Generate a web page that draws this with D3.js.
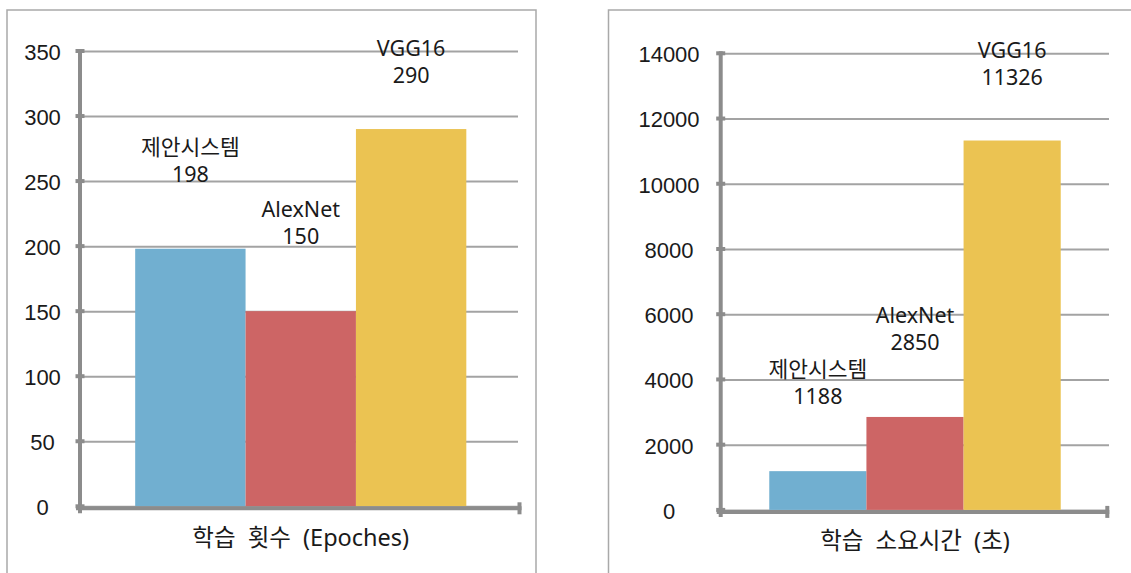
<!DOCTYPE html>
<html lang="ko">
<head>
<meta charset="utf-8">
<script src="https://cdn.jsdelivr.net/npm/d3@7"></script>
<style>
  html, body { margin: 0; padding: 0; background: #fff; }
  svg { display: block; font-family: "Noto Sans", "Noto Sans CJK KR", sans-serif; }
</style>
</head>
<body>
<svg id="chart" width="1131" height="573"></svg>
<script>
// Models compared in both panels
const models = ["제안시스템", "AlexNet", "VGG16"];
// Training epochs per model
const epochValues = [198, 150, 290];
// Training time per model, in seconds
const timeValues = [1188, 2850, 11326];
// Value-axis ticks for each panel
const epochTicks = [0, 50, 100, 150, 200, 250, 300, 350];
const timeTicks = [0, 2000, 4000, 6000, 8000, 10000, 12000, 14000];
// Category (x-axis) titles
const epochTitle = "학습 횟수 (Epoches)";
const timeTitle = "학습 소요시간 (초)";
// Series colours: blue, red, yellow
const barColors = ["#71afd0", "#cd6565", "#ebc352"];

const svg = d3.select("#chart");

const AXIS = "#8c8c8c";
const GRID = "#a3a3a3";
const FRAME = "#a9a9a9";
const TEXT = "#1a1a1a";

function drawPanel(cfg) {
  const g = svg.append("g");

  // panel frame (runs past the bottom / right edge of the page)
  g.append("rect")
    .attr("x", cfg.frame.x).attr("y", cfg.frame.y)
    .attr("width", cfg.frame.w).attr("height", cfg.frame.h)
    .attr("fill", "none").attr("stroke", FRAME).attr("stroke-width", 1.5);

  const y = d3.scaleLinear()
    .domain([0, d3.max(cfg.ticks)])
    .range([cfg.yBottom, cfg.yTop]);

  const x = d3.scaleBand()
    .domain(models)
    .range([cfg.axisX, cfg.axisEnd])
    .paddingInner(0)
    .paddingOuter(0.5);

  // gridlines + tick labels from a left axis
  const yAxis = d3.axisLeft(y)
    .tickValues(cfg.ticks)
    .tickFormat(d3.format("d"))
    .tickSize(-(cfg.gridEnd - cfg.axisX))
    .tickPadding(0);

  const ax = g.append("g")
    .attr("transform", `translate(${cfg.axisX},0)`)
    .call(yAxis);
  ax.select(".domain").remove();
  ax.selectAll(".tick line")
    .attr("stroke", GRID).attr("stroke-width", 2);
  ax.selectAll(".tick text")
    .attr("x", cfg.labelX - cfg.axisX)
    .attr("dy", "0.38em")
    .attr("text-anchor", "middle")
    .attr("fill", TEXT)
    .style("font-size", "22px");

  // bars
  const data = models.map((m, i) => ({ model: m, value: cfg.values[i], color: barColors[i] }));
  g.append("g").selectAll("rect")
    .data(data)
    .join("rect")
    .attr("x", d => x(d.model))
    .attr("y", d => y(d.value))
    .attr("width", x.bandwidth())
    .attr("height", d => y(0) - y(d.value))
    .attr("fill", d => d.color);

  // value axis line with cross ticks
  g.append("line")
    .attr("x1", cfg.axisX).attr("x2", cfg.axisX)
    .attr("y1", y(d3.max(cfg.ticks)) - 2).attr("y2", y(0) + 7)
    .attr("stroke", AXIS).attr("stroke-width", 4);
  g.append("g").selectAll("line")
    .data(cfg.ticks)
    .join("line")
    .attr("x1", cfg.axisX - 4.5).attr("x2", cfg.axisX + 4.5)
    .attr("y1", d => y(d)).attr("y2", d => y(d))
    .attr("stroke", AXIS).attr("stroke-width", 4);

  // category axis line with end cap
  const base = y(0) + 2;
  g.append("line")
    .attr("x1", cfg.axisX - 4).attr("x2", cfg.axisEnd)
    .attr("y1", base).attr("y2", base)
    .attr("stroke", AXIS).attr("stroke-width", 4);
  g.append("line")
    .attr("x1", cfg.axisEnd - 2).attr("x2", cfg.axisEnd - 2)
    .attr("y1", base - 6).attr("y2", base + 6)
    .attr("stroke", AXIS).attr("stroke-width", 4);

  // data labels: model name over value, kept inside the plot top
  const labels = g.append("g").selectAll("text")
    .data(data)
    .join("text")
    .attr("text-anchor", "middle")
    .attr("fill", TEXT)
    .style("font-size", "21.5px")
    .attr("transform", d => {
      const yb = Math.max(y(d.value) - 67, y(d3.max(cfg.ticks)) + 32);
      return `translate(${x(d.model) + x.bandwidth() / 2},${yb})`;
    });
  labels.append("tspan").attr("x", 0).attr("y", -27).text(d => d.model);
  labels.append("tspan").attr("x", 0).attr("y", 0).text(d => d.value);

  // category title
  g.append("text")
    .attr("x", (cfg.axisX + cfg.axisEnd) / 2)
    .attr("y", cfg.titleY)
    .attr("text-anchor", "middle")
    .attr("fill", TEXT)
    .style("font-size", "23.5px")
    .style("word-spacing", "6px")
    .text(cfg.title);
}

drawPanel({
  frame: { x: 7, y: 10, w: 529, h: 620 },
  values: epochValues, ticks: epochTicks, title: epochTitle,
  axisX: 80, axisEnd: 521.5, gridEnd: 518,
  yTop: 51, yBottom: 506.3, labelX: 42.5, titleY: 546
});

drawPanel({
  frame: { x: 608.5, y: 10, w: 600, h: 620 },
  values: timeValues, ticks: timeTicks, title: timeTitle,
  axisX: 720.7, axisEnd: 1109.3, gridEnd: 1109,
  yTop: 53.3, yBottom: 509.9, labelX: 669, titleY: 549
});
</script>
</body>
</html>
